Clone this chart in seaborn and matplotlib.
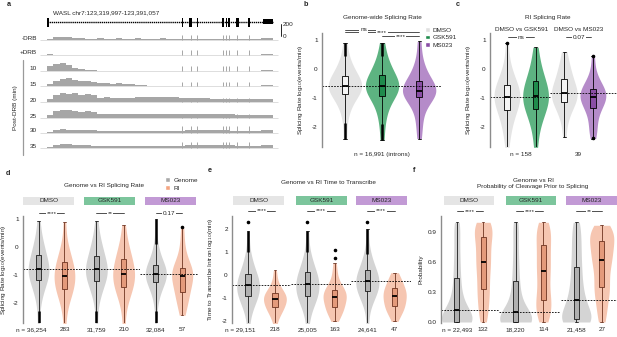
import numpy as np
import pandas as pd
import matplotlib
matplotlib.use("Agg")
import matplotlib.pyplot as plt
from matplotlib.patches import Patch, Rectangle
import seaborn as sns

W, H = 617, 337
FS = 4.6

# ---------------- data: panel a (coverage tracks, px heights per ~2 kb bin) ----------------
GENE_KB = 71.06
TRACKS = ["-DRB", "+DRB", "10", "15", "20", "25", "30", "35"]
EXONS = [(0.0, 0.6), (42.3, 42.7), (44.7, 45.6), (47.0, 47.4), (55.1, 55.5),
         (56.1, 56.5), (57.0, 57.4), (59.3, 60.2), (63.3, 63.7), (67.9, 71.06)]
SPIKE_KB = [42.5, 45.1, 47.2, 55.3, 56.3, 57.2, 59.7, 63.5]
SPIKE_H = [5, 5, 5, 4.5, 4.5, 4.5, 7, 6.5]
COV = {
    "-DRB": [1.5, 3, 3.5, 3, 2.5, 2, 1.5, 1.5, 2, 1.5, 1.5, 2, 1.5, 1.5, 2, 1.5, 1.5, 1.5,
             2, 1.5, 1.5, 1.5, 1.5, 1.5, 1.5, 1.5, 1.5, 1.5, 1.5, 1.5, 1.5, 1, 1, 1, 2, 2],
    "+DRB": [0.6, 0.4, 0.3, 0.3, 0.3, 0.3, 0.3, 0.3, 0.3, 0.3, 0.3, 0.3, 0.3, 0.3, 0.3, 0.3, 0.3, 0.3,
             0.3, 0.3, 0.3, 0.3, 0.3, 0.3, 0.3, 0.3, 0.3, 0.3, 0.3, 0.3, 0.3, 0.3, 0.3, 0.3, 1.5, 1.5],
    "10": [5, 7, 8, 6, 3.5, 1.8, 0.9, 0.6, 0.5, 0.5, 0.5, 0.5, 0.5, 0.5, 0.5, 0.5, 0.5, 0.5,
           0.5, 0.5, 0.5, 0.5, 0.5, 0.5, 0.5, 0.5, 0.5, 0.5, 0.5, 0.5, 0.5, 0.5, 0.5, 0.5, 1.5, 1.5],
    "15": [2.5, 5, 7, 8, 6, 5, 5.5, 4.5, 3.5, 3, 2.5, 3, 2.5, 1.8, 1.2, 0.6, 0.5, 0.5,
           0.5, 0.5, 0.5, 0.5, 0.5, 0.5, 0.5, 0.5, 0.5, 0.5, 0.5, 0.5, 0.5, 0.5, 0.5, 0.5, 1.5, 1.5],
    "20": [3.5, 7, 9.5, 8.5, 9, 7.5, 8.5, 7.5, 4.5, 5, 4.5, 4, 4.5, 4, 5, 5.5, 5, 5.5,
           5.5, 5, 5, 4.5, 4, 4, 4, 4, 3.5, 3.5, 3.5, 3.5, 3.5, 3, 3, 3, 3.5, 3],
    "25": [3.5, 7, 8.5, 8, 7.5, 6.5, 7, 6.5, 4, 4.5, 4, 4, 4, 4, 4.5, 4.5, 4.5, 4.5,
           4.5, 4.5, 4.5, 4, 4, 4, 4, 4, 4, 4, 4, 4, 3.5, 3.5, 3.5, 3.5, 3.5, 3.5],
    "30": [1.5, 3.5, 4, 3.5, 3.5, 3, 3, 3, 2.5, 2.5, 2.5, 2.5, 2.5, 2.5, 2.5, 2.5, 2.5, 2.5,
           2.5, 2.5, 2.5, 2.5, 3, 3, 3, 3, 3, 3, 3, 2.5, 2.5, 2.5, 2.5, 2.5, 3, 3],
    "35": [1.5, 3.5, 4, 4, 3.5, 3, 3, 2.5, 2.5, 2.5, 2.5, 2.5, 2.5, 2.5, 2.5, 2.5, 2.5, 2.5,
           2.5, 2.5, 2.5, 2.5, 3, 3, 3, 3, 3, 3, 3, 3, 2.5, 2.5, 2.5, 2.5, 3, 3],
}

# ---------------- data: panel b (genome-wide splicing rate, 5% quantiles) ----------------
B_ORDER = ["DMSO", "GSK591", "MS023"]
B_RATE = {
    "DMSO": [-2.4, -1.7, -1.35, -1.15, -1.0, -0.86, -0.79, -0.72, -0.67, -0.63, -0.6,
             -0.55, -0.49, -0.42, -0.34, -0.24, -0.12, 0.0, 0.15, 0.4, 0.9],
    "GSK591": [-2.45, -1.85, -1.5, -1.25, -1.05, -0.92, -0.82, -0.74, -0.68, -0.64, -0.6,
               -0.55, -0.49, -0.42, -0.32, -0.2, -0.08, 0.05, 0.2, 0.45, 0.9],
    "MS023": [-2.4, -1.95, -1.6, -1.3, -1.1, -0.98, -0.92, -0.86, -0.82, -0.78, -0.75,
              -0.71, -0.66, -0.6, -0.52, -0.4, -0.28, -0.15, 0.05, 0.35, 0.95],
}
B_THICK = {"DMSO": [(-2.4, -1.85), (0.45, 0.9)], "GSK591": [(-2.45, -1.9), (0.45, 0.9)]}

# ---------------- data: panel c (RI splicing rate) ----------------
C_ORDER = ["DMSO (1)", "GSK591", "DMSO (2)", "MS023"]
C_RATE = {
    "DMSO (1)": [-2.7, -2.2, -1.95, -1.75, -1.55, -1.41, -1.3, -1.2, -1.12, -1.04, -0.97,
                 -0.9, -0.82, -0.74, -0.65, -0.55, -0.45, -0.3, -0.1, 0.2, 0.9],
    "GSK591": [-2.7, -2.15, -1.85, -1.65, -1.5, -1.38, -1.27, -1.17, -1.08, -1.0, -0.93,
               -0.85, -0.76, -0.66, -0.55, -0.42, -0.3, -0.15, 0.05, 0.35, 0.75],
    "DMSO (2)": [-2.35, -1.8, -1.55, -1.4, -1.25, -1.15, -1.07, -1.0, -0.94, -0.88, -0.82,
                 -0.76, -0.69, -0.6, -0.48, -0.35, -0.22, -0.1, 0.05, 0.3, 0.6],
    "MS023": [-2.4, -2.15, -2.0, -1.7, -1.5, -1.35, -1.25, -1.16, -1.08, -1.02, -0.97,
              -0.92, -0.87, -0.82, -0.76, -0.7, -0.62, -0.52, -0.38, -0.1, 0.45],
}
C_COMPARE = ["DMSO vs GSK591", "DMSO vs MS023"]
C_SIG = ["ns", "0.07"]
C_N = ["n = 158", "39"]

# ---------------- data: panels d, e, f (genome vs retained introns) ----------------
TREATS = ["DMSO", "GSK591", "MS023"]
TYPES = ["Genome", "RI"]
D_RATE = {
    "DMSO": {"Genome": [-2.75, -1.95, -1.65, -1.45, -1.3, -1.18, -1.08, -0.99, -0.92, -0.85, -0.79,
                        -0.72, -0.64, -0.55, -0.43, -0.29, -0.15, 0.0, 0.15, 0.4, 0.95],
             "RI": [-2.75, -2.15, -1.9, -1.72, -1.6, -1.5, -1.4, -1.3, -1.2, -1.11, -1.03,
                    -0.95, -0.86, -0.77, -0.67, -0.55, -0.42, -0.28, -0.1, 0.2, 0.9]},
    "GSK591": {"Genome": [-2.75, -1.95, -1.65, -1.47, -1.32, -1.2, -1.1, -1.0, -0.93, -0.86, -0.8,
                          -0.73, -0.65, -0.56, -0.44, -0.3, -0.16, 0.0, 0.15, 0.4, 0.95],
               "RI": [-2.75, -2.1, -1.85, -1.65, -1.52, -1.42, -1.32, -1.22, -1.12, -1.03, -0.95,
                      -0.87, -0.78, -0.68, -0.56, -0.42, -0.3, -0.15, 0.02, 0.3, 0.8]},
    "MS023": {"Genome": [-2.75, -2.0, -1.7, -1.5, -1.36, -1.25, -1.17, -1.1, -1.05, -1.01, -0.97,
                         -0.92, -0.86, -0.8, -0.73, -0.64, -0.53, -0.4, -0.2, 0.15, 1.0],
              "RI": [-2.45, -2.2, -2.0, -1.82, -1.7, -1.6, -1.48, -1.36, -1.22, -1.12, -1.03,
                     -0.97, -0.92, -0.87, -0.82, -0.75, -0.62, -0.45, -0.2, 0.2, 0.72]},
}
D_SIG = ["****", "**", "0.17"]
D_N = [("n = 36,254", "283"), ("31,759", "210"), ("32,084", "57")]
D_THICK = {("DMSO", "Genome"): [(-2.75, -2.3)], ("GSK591", "Genome"): [(-2.75, -2.3)],
           ("MS023", "Genome"): [(-2.75, -2.3), (0.1, 1.0)]}
D_DOTS = {("MS023", "RI"): [0.72]}

E_TIME = {
    "DMSO": {"Genome": [-2.1, -1.5, -1.3, -1.13, -1.0, -0.9, -0.8, -0.7, -0.6, -0.52, -0.45,
                        -0.37, -0.28, -0.18, -0.07, 0.05, 0.2, 0.38, 0.6, 1.0, 1.9],
             "RI": [-2.1, -1.8, -1.65, -1.55, -1.47, -1.4, -1.32, -1.24, -1.17, -1.11, -1.05,
                    -0.99, -0.94, -0.89, -0.84, -0.78, -0.7, -0.6, -0.45, -0.2, 0.2]},
    "GSK591": {"Genome": [-2.1, -1.5, -1.3, -1.12, -1.0, -0.9, -0.8, -0.69, -0.58, -0.49, -0.4,
                          -0.31, -0.21, -0.1, 0.0, 0.12, 0.27, 0.45, 0.68, 1.05, 1.9],
               "RI": [-2.0, -1.8, -1.65, -1.55, -1.47, -1.4, -1.3, -1.2, -1.1, -1.02, -0.95,
                      -0.89, -0.83, -0.77, -0.71, -0.65, -0.55, -0.42, -0.25, 0.1, 0.5]},
    "MS023": {"Genome": [-2.15, -1.35, -1.1, -0.93, -0.8, -0.7, -0.6, -0.51, -0.42, -0.34, -0.27,
                         -0.19, -0.1, -0.01, 0.09, 0.2, 0.34, 0.52, 0.75, 1.1, 2.0],
              "RI": [-2.0, -1.75, -1.62, -1.52, -1.43, -1.35, -1.26, -1.17, -1.08, -1.0, -0.92,
                     -0.85, -0.78, -0.72, -0.63, -0.55, -0.45, -0.35, -0.22, -0.08, 0.1]},
}
E_SIG = ["****", "****", "****"]
E_N = [("n = 29,151", "218"), ("25,005", "163"), ("24,641", "47")]
E_THICK = {("DMSO", "Genome"): [(1.0, 1.9)], ("GSK591", "Genome"): [(1.0, 1.9)],
           ("MS023", "Genome"): [(0.9, 2.0)]}
E_DOTS = {("DMSO", "Genome"): [2.3], ("GSK591", "Genome"): [2.3],
          ("GSK591", "RI"): [0.75, 1.1], ("MS023", "Genome"): [2.3]}

F_PROB = {
    "DMSO": {"Genome": [0.0, 0.0, 0.0, 0.0, 0.0, 0.0, 0.01, 0.03, 0.06, 0.09, 0.12,
                        0.16, 0.21, 0.27, 0.35, 0.44, 0.54, 0.65, 0.77, 0.9, 1.0],
             "RI": [0.0, 0.08, 0.15, 0.22, 0.28, 0.33, 0.39, 0.45, 0.51, 0.56, 0.6,
                    0.65, 0.7, 0.75, 0.8, 0.85, 0.89, 0.93, 0.96, 0.98, 1.0]},
    "GSK591": {"Genome": [0.0, 0.0, 0.0, 0.0, 0.0, 0.0, 0.01, 0.02, 0.05, 0.07, 0.1,
                          0.14, 0.19, 0.25, 0.32, 0.41, 0.51, 0.62, 0.75, 0.89, 1.0],
               "RI": [0.0, 0.05, 0.1, 0.15, 0.19, 0.22, 0.28, 0.34, 0.4, 0.46, 0.51,
                      0.56, 0.61, 0.66, 0.72, 0.77, 0.82, 0.87, 0.92, 0.96, 1.0]},
    "MS023": {"Genome": [0.0, 0.0, 0.0, 0.0, 0.01, 0.03, 0.06, 0.1, 0.14, 0.18, 0.22,
                         0.27, 0.33, 0.4, 0.47, 0.55, 0.63, 0.72, 0.81, 0.9, 1.0],
              "RI": [0.0, 0.1, 0.18, 0.25, 0.31, 0.35, 0.41, 0.47, 0.53, 0.58, 0.62,
                     0.66, 0.7, 0.74, 0.78, 0.81, 0.85, 0.88, 0.91, 0.94, 0.97]},
}
F_SIG = ["****", "****", "**"]
F_N = [("n = 22,493", "132"), ("18,220", "114"), ("21,458", "27")]

# ---------------- colours ----------------
VIOLIN_TREAT = {"DMSO": "#e4e4e4", "GSK591": "#5db381", "MS023": "#b58bc9"}
BOX_TREAT = {"DMSO": "#f4f4f4", "GSK591": "#1f8b4c", "MS023": "#8a4ea5"}
STRIP = {"DMSO": "#e5e5e5", "GSK591": "#7cc59c", "MS023": "#c29ad5"}
VIOLIN_TYPE = {"Genome": "#d4d4d4", "RI": "#f6c6b1"}
BOX_TYPE = {"Genome": "#b0b0b0", "RI": "#e49a7b"}
EDGE_TYPE = {"Genome": "#1a1a1a", "RI": "#6e3320"}
LEGEND_TYPE = {"Genome": "#a9a9a9", "RI": "#f4a582"}

sns.set_theme(style="white")
plt.rcParams["font.family"] = ["Liberation Sans", "DejaVu Sans"]
plt.rcParams["axes.unicode_minus"] = False

fig = plt.figure(figsize=(W / 100, H / 100), dpi=100)


def px_axes(x0, y0, x1, y1):
    return fig.add_axes([x0 / W, 1 - y1 / H, (x1 - x0) / W, (y1 - y0) / H])


def fig_text(x, y, s, **kw):
    kw.setdefault("fontsize", FS)
    fig.text(x / W, 1 - y / H, s, **kw)


def long_df(groups):
    return pd.DataFrame([(g, v) for g, vals in groups.items() for v in vals], columns=["grp", "val"])


def style_axis(ax, show_y=True):
    ax.set_xticks([])
    ax.set_xlabel("")
    for side in ["top", "right", "bottom"]:
        ax.spines[side].set_visible(False)
    ax.patch.set_alpha(0)
    if show_y:
        ax.spines["left"].set_color("#8c8c8c")
        ax.spines["left"].set_linewidth(1.0)
        ax.tick_params(axis="y", length=2, width=0.5, labelsize=FS, pad=1, colors="#222222")
    else:
        ax.spines["left"].set_visible(False)
        ax.set_yticks([])
        ax.set_ylabel("")


def violins(ax, groups, order, vcol, bcol, ecol, width, bw, box_w, norm="width"):
    df = long_df(groups)
    sns.violinplot(data=df, x="grp", y="val", hue="grp", order=order, hue_order=order,
                   palette=vcol, inner=None, cut=0, linewidth=0, density_norm=norm,
                   common_norm=True, width=width, bw_adjust=bw, saturation=1,
                   legend=False, ax=ax)
    for g in order:
        sns.boxplot(data=df[df["grp"] == g], x="grp", y="val", order=order, color=bcol[g],
                    linecolor=ecol[g], width=box_w, whis=(0, 100), showfliers=False,
                    linewidth=0.6, saturation=1, medianprops={"color": "black", "linewidth": 1.3},
                    ax=ax)


def bracket(ax, x1, x2, y, label):
    ax.plot([x1, x2], [y, y], color="#333333", lw=0.6, clip_on=False)
    ax.text((x1 + x2) / 2, y, label, ha="center", va="center", fontsize=FS, clip_on=False,
            bbox=dict(facecolor="white", edgecolor="none", pad=0.6))


def strip(x0, x1, y0, y1, label, color):
    s = px_axes(x0, y0, x1, y1)
    s.set_facecolor(color)
    s.set_xticks([])
    s.set_yticks([])
    for sp in s.spines.values():
        sp.set_visible(False)
    s.text(0.5, 0.5, label, ha="center", va="center", fontsize=FS, transform=s.transAxes)


# ---------------- panel a ----------------
TRACK_BASE = [25, 40, 56, 71, 87, 103, 118, 133]
axa = px_axes(40, 15, 285, 158)
axa.set_xlim(-2.2, 74.8)
axa.set_ylim(143, 0)
axa.axis("off")
axa.text(1.9, -2, "WASL chr7:123,319,997-123,391,057", fontsize=FS, ha="left", va="center", clip_on=False)
axa.plot([0, GENE_KB], [7, 7], color="black", lw=1.0, dashes=(1.0, 0.5))
for s, e in EXONS[:-1]:
    axa.add_patch(Rectangle((s, 2.5), max(e - s, 0.35), 9, color="black", lw=0))
axa.add_patch(Rectangle((EXONS[-1][0], 4.2), EXONS[-1][1] - EXONS[-1][0], 5, color="black", lw=0))
for name, base, sh in zip(TRACKS, TRACK_BASE, SPIKE_H):
    vals = np.array(COV[name], dtype=float)
    edges = np.linspace(0, GENE_KB, len(vals) + 1)
    axa.hlines(base, -2.2, 72.5, color="#c4c4c4", lw=0.4)
    axa.fill_between(edges, base, base - np.append(vals, vals[-1]), step="post",
                     color="#a6a6a6", lw=0)
    axa.vlines(SPIKE_KB, base, base - sh, color="#a6a6a6", lw=0.7)
    axa.text(-3.1, base - 2, name, ha="right", va="center", fontsize=FS, clip_on=False)
axa.plot([-7.5, -7.5], [45, 140], color="#9a9a9a", lw=0.9, clip_on=False)
axa.text(-10, 93, "Post-DRB (min)", rotation=90, ha="center", va="center", fontsize=FS, clip_on=False)
axa.plot([73.6, 73.6], [9, 21], color="black", lw=0.6, clip_on=False)
axa.text(74.1, 10, "200", ha="left", va="center", fontsize=FS, clip_on=False)
axa.text(74.1, 22, "0", ha="left", va="center", fontsize=FS, clip_on=False)

# ---------------- panel b ----------------
axb = px_axes(322, 33, 441, 147)
violins(axb, B_RATE, B_ORDER, VIOLIN_TREAT, BOX_TREAT, {g: "black" for g in B_ORDER}, 0.9, 0.9, 0.17)
for g, segs in B_THICK.items():
    for lo, hi in segs:
        axb.vlines(B_ORDER.index(g), lo, hi, color="black", lw=1.8)
axb.hlines(np.median(B_RATE["DMSO"]), -0.62, 2.59, color="black", lw=0.6, linestyles=(0, (2, 1.5)))
axb.set_xlim(-0.62, 2.59)
axb.set_ylim(-2.69, 1.24)
axb.set_yticks([-2, -1, 0, 1])
style_axis(axb)
axb.set_ylabel("Splicing Rate log$_{10}$(events/min)", fontsize=FS)
axb.yaxis.set_label_coords(-0.14, 0.5)
bracket(axb, 0, 1, 1.345, "ns")
bracket(axb, 0, 2, 1.26, "****")
bracket(axb, 1, 2, 1.12, "****")
axb.text(1, -0.07, "n = 16,991 (introns)", transform=axb.get_xaxis_transform(),
         ha="center", va="center", fontsize=FS)
fig_text(382, 17, "Genome-wide Splicing Rate", ha="center", va="center")
axb.legend(handles=[Patch(facecolor=c, label=g) for g, c in
                    [("DMSO", "#e0e0e0"), ("GSK591", BOX_TREAT["GSK591"]), ("MS023", BOX_TREAT["MS023"])]],
           loc="upper left", bbox_to_anchor=(425 / W, 1 - 27 / H), bbox_transform=fig.transFigure,
           frameon=False, fontsize=FS, handlelength=0.8, handleheight=0.8, labelspacing=0.3,
           handletextpad=0.4, borderpad=0, borderaxespad=0)

# ---------------- panel c ----------------
axc = px_axes(490, 33, 617, 147)
c_vcol = {"DMSO (1)": VIOLIN_TREAT["DMSO"], "GSK591": VIOLIN_TREAT["GSK591"],
          "DMSO (2)": VIOLIN_TREAT["DMSO"], "MS023": VIOLIN_TREAT["MS023"]}
c_bcol = {"DMSO (1)": BOX_TREAT["DMSO"], "GSK591": BOX_TREAT["GSK591"],
          "DMSO (2)": BOX_TREAT["DMSO"], "MS023": BOX_TREAT["MS023"]}
violins(axc, C_RATE, C_ORDER, c_vcol, c_bcol, {g: "black" for g in C_ORDER}, 0.9, 0.9, 0.2)
axc.scatter([0, 3, 3], [0.9, 0.45, -2.38], s=2.5, color="black", zorder=5)
axc.hlines(np.median(C_RATE["DMSO (1)"]), -0.59, 1.5, color="black", lw=0.6, linestyles=(0, (2, 1.5)))
axc.hlines(np.median(C_RATE["DMSO (2)"]), 1.5, 3.84, color="black", lw=0.6, linestyles=(0, (2, 1.5)))
axc.set_xlim(-0.59, 3.84)
axc.set_ylim(-2.69, 1.24)
axc.set_yticks([-2, -1, 0, 1])
style_axis(axc)
axc.set_ylabel("Splicing Rate log$_{10}$(events/min)", fontsize=FS)
axc.yaxis.set_label_coords(-0.13, 0.5)
for i, (lab, sig, n) in enumerate(zip(C_COMPARE, C_SIG, C_N)):
    x1, x2 = 2 * i, 2 * i + 1
    axc.text((x1 + x2) / 2, 1.345, lab, ha="center", va="center", fontsize=FS, clip_on=False)
    bracket(axc, x1 + 0.05, x2 - 0.05, 1.1, sig)
    axc.text((x1 + x2) / 2, -0.065, n, transform=axc.get_xaxis_transform(),
             ha="center", va="center", fontsize=FS)
fig_text(548, 17, "RI Splicing Rate", ha="center", va="center")


# ---------------- panels d, e, f ----------------
def facet_panel(data, facets, ylim, yticks, ytl, ylabel, label_x, sig_y, sigs, ns,
                n_shift, width, bw, norm="width", thick=None, dots=None):
    for i, (t, (x0, x1)) in enumerate(zip(TREATS, facets)):
        ax = px_axes(x0, 216, x1, 323)
        violins(ax, data[t], TYPES, VIOLIN_TYPE, BOX_TYPE, EDGE_TYPE, width, bw, 0.2, norm)
        for (tt, ty), segs in (thick or {}).items():
            if tt == t:
                for lo, hi in segs:
                    ax.vlines(TYPES.index(ty), lo, hi, color="black", lw=1.8)
        for (tt, ty), ys in (dots or {}).items():
            if tt == t:
                ax.scatter([TYPES.index(ty)] * len(ys), ys, s=2.5, color="black", zorder=5)
        ax.hlines(np.median(data[t]["Genome"]), -0.6, 1.6, color="black", lw=0.6,
                  linestyles=(0, (2, 1.5)))
        ax.set_xlim(-0.6, 1.6)
        ax.set_ylim(*ylim)
        if i == 0:
            ax.set_yticks(yticks)
            ax.set_yticklabels(ytl)
            style_axis(ax)
            ax.set_ylabel(ylabel, fontsize=FS)
            ax.yaxis.set_label_coords(label_x, 0.5)
        else:
            style_axis(ax, show_y=False)
        bracket(ax, 0, 1, sig_y, sigs[i])
        ax.text(0 + (n_shift if i == 0 else 0), -0.065, ns[i][0], transform=ax.get_xaxis_transform(),
                ha="center", va="center", fontsize=FS)
        ax.text(1, -0.065, ns[i][1], transform=ax.get_xaxis_transform(),
                ha="center", va="center", fontsize=FS)


facet_panel(D_RATE, [(23, 80), (80, 140), (140, 198)], (-2.73, 1.125), [-2, -1, 0, 1],
            ["-2", "-1", "0", "1"], "Splicing Rate log$_{10}$(events/min)", -0.26, 1.23,
            D_SIG, D_N, -0.3, 0.8, 0.9, thick=D_THICK, dots=D_DOTS)
for t, (x0, x1) in zip(TREATS, [(23, 74), (84, 135), (145, 196)]):
    strip(x0, x1, 197, 205, t, STRIP[t])
fig_text(104, 185, "Genome vs RI Splicing Rate", ha="center", va="center")
fig.legend(handles=[Patch(facecolor=LEGEND_TYPE[t], label=t) for t in TYPES],
           loc="upper left", bbox_to_anchor=(165 / W, 1 - 177 / H), frameon=False, fontsize=FS,
           handlelength=0.8, handleheight=0.8, labelspacing=0.35, handletextpad=0.6,
           borderpad=0, borderaxespad=0)

facet_panel(E_TIME, [(232, 291), (291, 351), (351, 411)], (-2.07, 2.55), [-2, -1, 0, 1, 2],
            ["-2", "-1", "0", "1", "2"], "Time to Transcribe Intron log$_{10}$(min)", -0.29, 2.78,
            E_SIG, E_N, -0.3, 0.85, 0.9, thick=E_THICK, dots=E_DOTS)
for t, (x0, x1) in zip(TREATS, [(233, 284), (296, 347), (356, 407)]):
    strip(x0, x1, 196, 205, t, STRIP[t])
fig_text(328, 183, "Genome vs RI Time to Transcribe", ha="center", va="center")

facet_panel(F_PROB, [(441, 499), (499, 560), (561, 617)], (-0.01, 1.063), [0.0, 0.3, 0.6, 0.9],
            ["0.0", "0.3", "0.6", "0.9"], "Probability", -0.31, 1.11,
            F_SIG, F_N, 0.0, 1.15, 0.6, norm="area")
for t, (x0, x1) in zip(TREATS, [(444, 494), (506, 556), (566, 617)]):
    strip(x0, x1, 196, 205, t, STRIP[t])
fig_text(533, 180, "Genome vs RI", ha="center", va="center")
fig_text(533, 187, "Probability of Cleavage Prior to Splicing", ha="center", va="center")

# panel letters
for lab, x, y in [("a", 9, 5), ("b", 306, 5), ("c", 458, 5), ("d", 8, 174), ("e", 210, 171), ("f", 414, 171)]:
    fig_text(x, y, lab, fontweight="bold", fontsize=5.2, ha="center", va="center")

fig.savefig("out.png", dpi=100)
